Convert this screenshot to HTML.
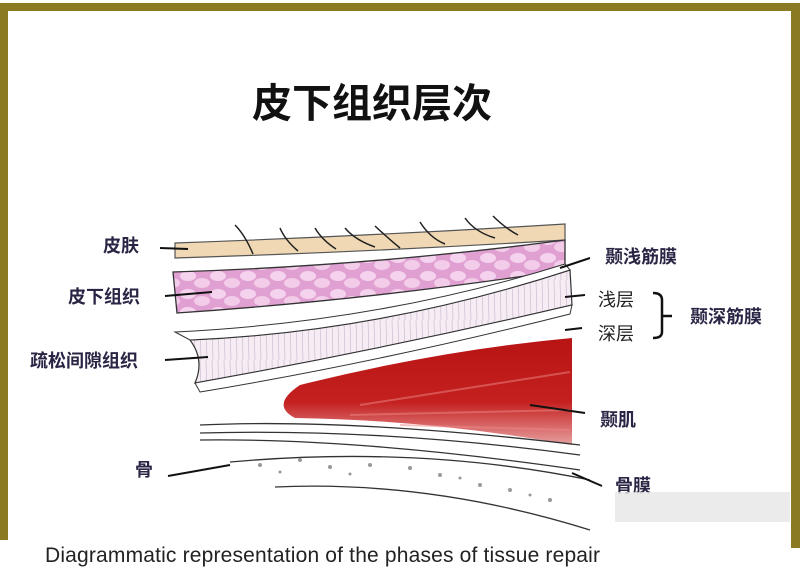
<!DOCTYPE html>
<html><head><meta charset="utf-8"><style>
body{margin:0;width:800px;height:573px;overflow:hidden;background:#fff;}
svg{display:block}
.l{font-family:"Liberation Sans","Noto Sans CJK SC",sans-serif;font-weight:bold;font-size:18px;fill:#2b2545}
</style></head><body>
<svg width="800" height="573" viewBox="0 0 800 573">
<defs>
<linearGradient id="mus" x1="0" x2="0" y1="0" y2="1">
<stop offset="0" stop-color="#b81414"/><stop offset="0.6" stop-color="#c42020"/><stop offset="1" stop-color="#e7a0a0"/></linearGradient>
<pattern id="cells" width="30" height="18" patternUnits="userSpaceOnUse">
<rect width="30" height="18" fill="#e0a0d2"/>
<ellipse cx="8" cy="6" rx="8" ry="5" fill="#f5d3ee"/>
<ellipse cx="22" cy="13" rx="8" ry="5" fill="#f2cce9"/>
</pattern>
<pattern id="str" width="6" height="40" patternUnits="userSpaceOnUse">
<rect width="6" height="40" fill="#f5ecf4"/>
<line x1="2" y1="0" x2="3" y2="40" stroke="#c9b6cc" stroke-width="0.6"/>
</pattern>
</defs>
<rect x="0" y="3" width="800" height="8" fill="#8a7a22"/>
<rect x="0" y="3" width="8" height="537" fill="#8a7a22"/>
<rect x="791" y="3" width="9" height="545" fill="#8a7a22"/>
<text x="372" y="117" text-anchor="middle" font-family="Liberation Sans,'Noto Sans CJK SC',sans-serif" font-weight="bold" font-size="40" fill="#111">皮下组织层次</text>
<path d="M175,243 Q370,236 565,224 L565,240 Q370,252 175,258 Z" fill="#f0d8b4" stroke="#555" stroke-width="1.2"/>
<g stroke="#222" stroke-width="1.5" fill="none">
<path d="M235,225 Q245,235 253,254"/><path d="M280,228 Q285,240 298,251"/><path d="M315,228 Q322,240 336,249"/>
<path d="M345,228 Q355,240 375,247"/><path d="M375,226 Q390,240 400,248"/><path d="M420,222 Q430,238 445,244"/>
<path d="M465,218 Q475,232 495,238"/><path d="M493,216 Q505,228 518,235"/></g>
<path d="M173,272 Q370,266 565,240 L565,270 Q370,300 177,313 Z" fill="url(#cells)" stroke="#333" stroke-width="1.3"/>
<path d="M190,340 Q380,332 570,270 L572,305 Q380,350 195,383 Q205,360 190,340 Z" fill="url(#str)" stroke="#333" stroke-width="1.2"/>
<path d="M175,332 Q380,322 565,264 L570,270 Q380,332 190,340 Z" fill="#fff" stroke="#333" stroke-width="1"/>
<path d="M195,383 Q380,350 572,305 L570,314 Q380,362 200,392 Z" fill="#fff" stroke="#333" stroke-width="1"/>
<path d="M300,385 Q440,350 572,338 L572,445 Q430,420 295,418 Q270,405 300,385 Z" fill="url(#mus)"/>
<g stroke="#e88" stroke-width="2" opacity="0.5"><path d="M360,405 L570,372"/><path d="M350,415 L570,410"/><path d="M400,425 L570,430"/></g>
<g stroke="#333" stroke-width="1.3" fill="none">
<path d="M200,425 Q350,418 580,445"/><path d="M200,433 Q380,428 580,455"/><path d="M200,440 Q360,438 580,470"/>
<path d="M230,462 Q420,445 590,480"/><path d="M275,487 Q430,480 590,530"/></g>
<g fill="#999"><circle cx="260" cy="465" r="2"/><circle cx="300" cy="460" r="2"/><circle cx="330" cy="467" r="2"/><circle cx="370" cy="465" r="2"/><circle cx="410" cy="468" r="2"/><circle cx="440" cy="475" r="2"/><circle cx="480" cy="485" r="2"/><circle cx="510" cy="490" r="2"/><circle cx="550" cy="500" r="2"/><circle cx="280" cy="472" r="1.5"/><circle cx="350" cy="474" r="1.5"/><circle cx="460" cy="478" r="1.5"/><circle cx="530" cy="495" r="1.5"/></g>
<g stroke="#111" stroke-width="2" fill="none">
<path d="M160,248 L188,249"/><path d="M165,296 L212,292"/><path d="M165,360 L208,357"/><path d="M168,476 L230,465"/>
<path d="M560,268 L590,258"/><path d="M565,297 L585,295"/><path d="M565,330 L582,328"/><path d="M530,405 L585,413"/><path d="M572,473 L602,486"/>
<path d="M653,293 Q662,293 662,300 L662,332 Q662,338 653,338 M662,316 L672,316" stroke-width="2.5"/>
</g>
<text class="l" x="103" y="252">皮肤</text>
<text class="l" x="68" y="303">皮下组织</text>
<text class="l" x="30" y="367">疏松间隙组织</text>
<text class="l" x="135" y="476">骨</text>
<text class="l" x="605" y="263">颞浅筋膜</text>
<text class="l" x="598" y="306" style="font-weight:normal;fill:#222">浅层</text>
<text class="l" x="598" y="340" style="font-weight:normal;fill:#222">深层</text>
<text class="l" x="690" y="323">颞深筋膜</text>
<text class="l" x="600" y="426">颞肌</text>
<text class="l" x="615" y="492" font-size="14">骨膜</text>
<rect x="615" y="492" width="175" height="30" fill="#e6e6e6" opacity="0.8"/>
<text x="45" y="562" font-family="Liberation Sans,sans-serif" font-size="21" fill="#222" textLength="555">Diagrammatic representation of the phases of tissue repair</text>
</svg>
</body></html>
